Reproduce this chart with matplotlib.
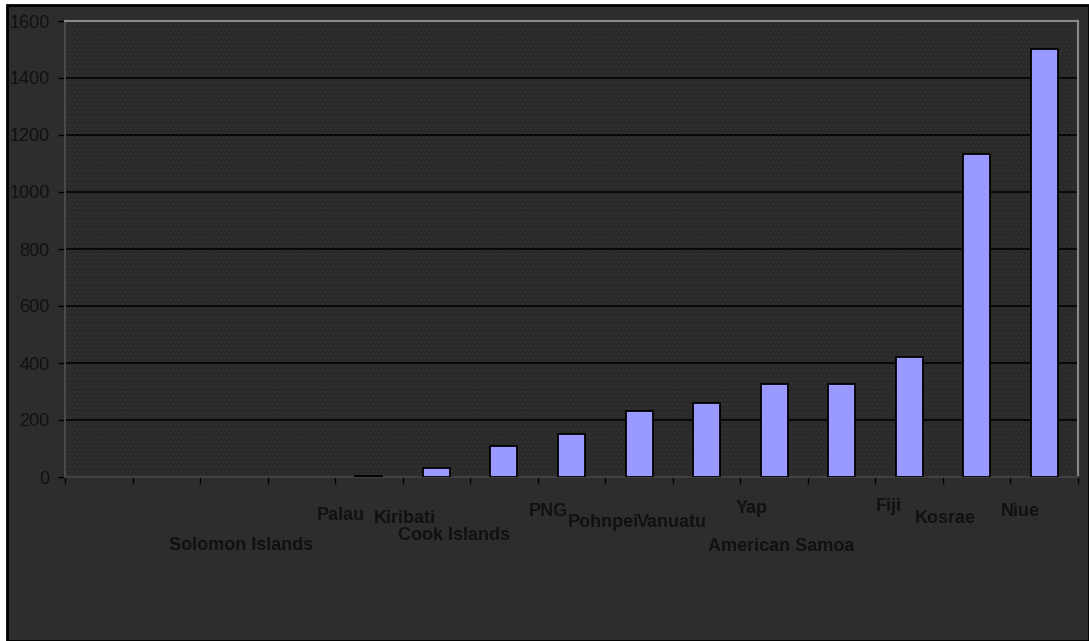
import matplotlib.pyplot as plt
from matplotlib.patches import Rectangle

plt.rcParams['font.family'] = ['Liberation Sans', 'DejaVu Sans']

# countries in chart order, empty slots have no name
countries = ['', '', '', 'Solomon Islands', 'Palau', 'Kiribati', 'Cook Islands',
             'PNG', 'Pohnpei', 'Vanuatu', 'Yap', 'American Samoa', 'Fiji',
             'Kosrae', 'Niue']
values = [0, 0, 0, 0, 5, 30, 110, 150, 230, 260, 325, 328, 420, 1135, 1500]
yticks = [0, 200, 400, 600, 800, 1000, 1200, 1400, 1600]

# staggered label offsets (pixels from bar centre at y=0)
label_dx = [0, 0, 0, -60, -28, -32, -50, -23, -36, -35, -22, -60, -20, -31, -24]
label_dy = [0, 0, 0, -73, -43, -46, -63, -39, -50, -50, -36, -74, -34, -46, -39]

fig = plt.figure(figsize=(10.89, 6.41), dpi=100, facecolor='white')
# dark chart area with black frame
fig.patches.append(Rectangle((7 / 1089, 0), 1 - 7 / 1089, 1 - 5 / 641,
                             transform=fig.transFigure, facecolor='#2d2d2d',
                             edgecolor='black', linewidth=2, zorder=-10))

ax = fig.add_axes([65 / 1089, 1 - 477 / 641, (1078 - 65) / 1089, (477 - 21) / 641])
ax.set_zorder(1)
ax.set_facecolor('#2a2a2a')
plt.rcParams['hatch.linewidth'] = 0.6
ax.add_patch(Rectangle((0, 0), 1, 1, transform=ax.transAxes, facecolor='none',
                       edgecolor='#363636', hatch='....', linewidth=0, zorder=0))

x = list(range(len(countries)))
# no outline on empty bars
edge_w = [1.3 if v > 0 else 0 for v in values]
ax.bar(x, values, width=0.4, color='#9999ff', edgecolor='black', linewidth=edge_w, zorder=3)

ax.set_xlim(-0.5, len(countries) - 0.5)
ax.set_ylim(0, 1600)
ax.set_yticks(yticks)
ax.set_yticklabels([str(v) for v in yticks], fontsize=13, color='#111111')
ax.yaxis.grid(True, color='black', linewidth=1.1, zorder=1)
ax.set_axisbelow(True)

ax.set_xticks([i - 0.5 for i in range(len(countries) + 1)])
ax.set_xticklabels([])
ax.tick_params(axis='x', direction='out', length=5, width=1, color='black')
ax.tick_params(axis='y', direction='out', length=5, width=1, color='black', pad=6)

for side in ['top', 'right']:
    ax.spines[side].set_color('#8a8a8a')
    ax.spines[side].set_linewidth(1.5)
ax.spines['left'].set_color('#505050')
ax.spines['bottom'].set_color('#404040')
ax.spines['left'].set_linewidth(1.2)
ax.spines['bottom'].set_linewidth(1.5)

for i, name in enumerate(countries):
    if name:
        ax.annotate(name, xy=(i, 0), xycoords='data',
                    xytext=(label_dx[i], label_dy[i]), textcoords='offset pixels',
                    ha='center', va='baseline', fontsize=13, fontweight='bold',
                    color='#111111', annotation_clip=False)

fig.savefig('out.png', dpi=100, facecolor=fig.get_facecolor())
